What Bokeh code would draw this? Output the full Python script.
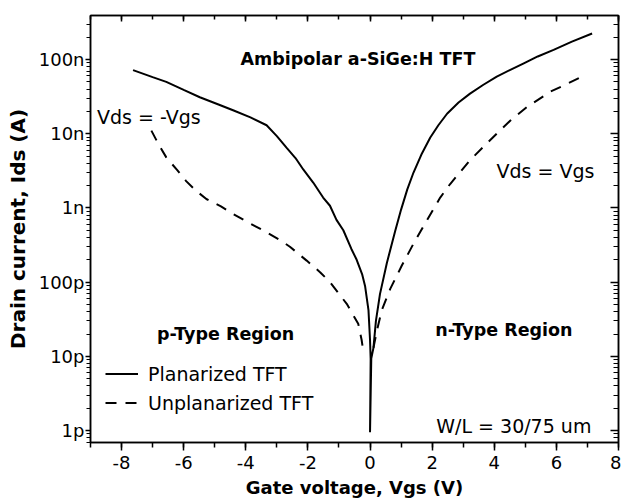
from bokeh.plotting import figure
from bokeh.models import (Range1d, LinearAxis, LogAxis, FixedTicker, SingleIntervalTicker,
                          CustomJSTickFormatter, Label, Legend, LegendItem)
from bokeh.embed import file_html
from bokeh.resources import INLINE

# ---- data ----
planarized_v = [-7.63, -7.0, -6.56, -6.0, -5.48, -4.9, -4.41, -3.85, -3.33, -3.0, -2.69, -2.4,
                -2.15, -1.83, -1.51, -1.29, -1.08, -0.86, -0.6, -0.43, -0.25, -0.16, -0.05, 0.0,
                0.02, 0.0, 0.04, 0.11, 0.19, 0.32, 0.54, 0.81, 1.0, 1.2, 1.4, 1.65, 1.94, 2.2,
                2.48, 2.85, 3.22, 3.65, 4.08, 4.5, 4.95, 5.4, 5.91, 6.5, 7.15]
planarized_i = [7.2e-8, 5.8e-8, 5.0e-8, 3.9e-8, 3.1e-8, 2.5e-8, 2.07e-8, 1.66e-8, 1.3e-8, 9.3e-9,
                6.5e-9, 4.7e-9, 3.3e-9, 2.2e-9, 1.38e-9, 1.07e-9, 6.9e-10, 5.0e-10, 2.8e-10,
                2.0e-10, 1.26e-10, 8.9e-11, 4.2e-11, 1.66e-11, 9.3e-12, 9.5e-13, 9.3e-12, 1.3e-11,
                3.0e-11, 6.9e-11, 1.8e-10, 4.9e-10, 9.5e-10, 1.78e-9, 3.0e-9, 5.2e-9, 8.9e-9,
                1.3e-8, 1.86e-8, 2.63e-8, 3.47e-8, 4.57e-8, 5.9e-8, 7.2e-8, 8.9e-8, 1.1e-7,
                1.35e-7, 1.74e-7, 2.24e-7]

unplanarized_left_v = [-7.04, -6.8, -6.56, -6.2, -5.92, -5.6, -5.27, -4.8, -4.41, -3.9, -3.33,
                       -2.9, -2.58, -2.04, -1.6, -1.29, -0.75, -0.38, -0.27, -0.22]
unplanarized_left_i = [1.1e-8, 7.1e-9, 4.8e-9, 3.2e-9, 2.3e-9, 1.7e-9, 1.32e-9, 1.05e-9, 8.3e-10,
                       6.3e-10, 4.7e-10, 3.7e-10, 3.0e-10, 1.95e-10, 1.35e-10, 1.0e-10, 5.1e-11,
                       2.75e-11, 1.66e-11, 1.2e-11]
unplanarized_right_v = [0.11, 0.22, 0.38, 0.65, 1.02, 1.4, 1.83, 2.26, 2.58, 3.22, 3.88, 4.52,
                        5.06, 5.81, 6.3, 6.77]
unplanarized_right_i = [1.3e-11, 2.2e-11, 4.2e-11, 8.1e-11, 1.66e-10, 3.3e-10, 6.8e-10, 1.38e-9,
                        2.1e-9, 4.4e-9, 8.3e-9, 1.51e-8, 2.3e-8, 3.7e-8, 4.6e-8, 5.75e-8]

y_tick_values = [1e-12, 1e-11, 1e-10, 1e-9, 1e-8, 1e-7]
y_tick_labels = ["1p", "10p", "100p", "1n", "10n", "100n"]

FONT = "DejaVu Sans"

p = figure(width=621, height=504, y_axis_type="log", output_backend="svg",
           toolbar_location=None, x_range=Range1d(-9, 8), y_range=Range1d(6.9e-13, 3.92e-7))
p.min_border_left = 90
p.min_border_right = 3
p.min_border_top = 15
p.min_border_bottom = 62
p.background_fill_color = "white"
p.border_fill_color = "white"
p.outline_line_color = "black"
p.outline_line_width = 1.5
p.xgrid.visible = False
p.ygrid.visible = False

minor_y = [m * 10.0 ** k for k in range(-13, -6) for m in range(2, 10)]
yticker = FixedTicker(ticks=y_tick_values, minor_ticks=minor_y)
xticker = SingleIntervalTicker(interval=2, num_minor_ticks=2)
yfmt = CustomJSTickFormatter(args=dict(vals=y_tick_values, labs=y_tick_labels), code="""
for (let i = 0; i < vals.length; i++) {
  if (Math.abs(Math.log10(tick) - Math.log10(vals[i])) < 1e-6) return labs[i];
}
return "";
""")
xfmt = CustomJSTickFormatter(code="return Math.round(tick).toString();")
blank = CustomJSTickFormatter(code="return '.';")

# bottom axis
xa = p.xaxis[0]
xa.ticker = xticker
xa.formatter = xfmt
xa.axis_label = "Gate voltage, Vgs (V)"
xa.axis_label_text_font = FONT
xa.axis_label_text_font_style = "bold"
xa.axis_label_text_font_size = "18px"
xa.axis_label_text_color = "black"
xa.axis_label_standoff = 5
xa.major_label_text_font = FONT
xa.major_label_text_font_size = "18px"
xa.major_label_text_color = "black"
xa.major_label_standoff = 5
xa.major_tick_out = 8
xa.major_tick_in = 0
xa.minor_tick_out = 5
xa.minor_tick_in = 0
xa.axis_line_width = 1.5
xa.major_tick_line_width = 1.5
xa.minor_tick_line_width = 1.5

# left axis
ya = p.yaxis[0]
ya.ticker = yticker
ya.formatter = yfmt
ya.axis_label = "Drain current, Ids (A)"
ya.axis_label_text_font = FONT
ya.axis_label_text_font_style = "bold"
ya.axis_label_text_font_size = "20px"
ya.axis_label_text_color = "black"
ya.axis_label_standoff = 6
ya.major_label_text_font = FONT
ya.major_label_text_font_size = "18px"
ya.major_label_text_color = "black"
ya.major_label_standoff = 1
ya.major_tick_out = 5
ya.major_tick_in = 0
ya.minor_tick_out = 4
ya.minor_tick_in = 0
ya.axis_line_width = 1.5
ya.major_tick_line_width = 1.5
ya.minor_tick_line_width = 1

# mirror axes (ticks inward, labels invisible)
ra = LogAxis(ticker=yticker, formatter=blank, major_label_text_font_size="1px",
             major_label_text_alpha=0, major_label_standoff=0,
             major_tick_in=8, major_tick_out=0, minor_tick_in=5, minor_tick_out=0,
             axis_line_width=1.5, major_tick_line_width=1.5, minor_tick_line_width=1)
p.add_layout(ra, "right")
ta = LinearAxis(ticker=xticker, formatter=blank, major_label_text_font_size="1px",
                major_label_text_alpha=0, major_label_standoff=0,
                major_tick_in=6, major_tick_out=0, minor_tick_in=4, minor_tick_out=0,
                axis_line_width=1.5, major_tick_line_width=1.5, minor_tick_line_width=1.5)
p.add_layout(ta, "above")

# curves
r1 = p.line(planarized_v, planarized_i, line_color="black", line_width=2)
r2 = p.line(unplanarized_left_v, unplanarized_left_i, line_color="black", line_width=2,
            line_dash="11 9")
r3 = p.line(unplanarized_right_v, unplanarized_right_i, line_color="black", line_width=2,
            line_dash="11 9")

legend = Legend(items=[LegendItem(label="Planarized TFT", renderers=[r1]),
                       LegendItem(label="Unplanarized TFT", renderers=[r2])],
                location=(15, 25), orientation="vertical")
legend.label_text_font = FONT
legend.label_text_font_size = "19px"
legend.label_text_color = "black"
legend.glyph_width = 33
legend.glyph_height = 29
legend.label_height = 29
legend.label_standoff = 10
legend.spacing = 0
legend.padding = 0
legend.margin = 0
legend.border_line_color = None
legend.background_fill_alpha = 0
p.add_layout(legend, "center")

def lab(text, x, y, size, bold=False):
    p.add_layout(Label(x=x, y=y, text=text, text_font=FONT, text_font_size=size,
                       text_font_style="bold" if bold else "normal", text_color="black",
                       text_align="center", text_baseline="alphabetic"))

lab("Ambipolar a-SiGe:H TFT", -0.39, 1.02e-7, "17.5px", True)
lab("Vds = -Vgs", -7.12, 1.66e-8, "19px")
lab("Vds = Vgs", 5.65, 3.19e-9, "19px")
lab("p-Type Region", -4.65, 1.97e-11, "17.5px", True)
lab("n-Type Region", 4.31, 2.23e-11, "17.5px", True)
lab("W/L = 30/75 um", 4.63, 1.14e-12, "19px")

open("out.html", "w").write(file_html(p, INLINE))
